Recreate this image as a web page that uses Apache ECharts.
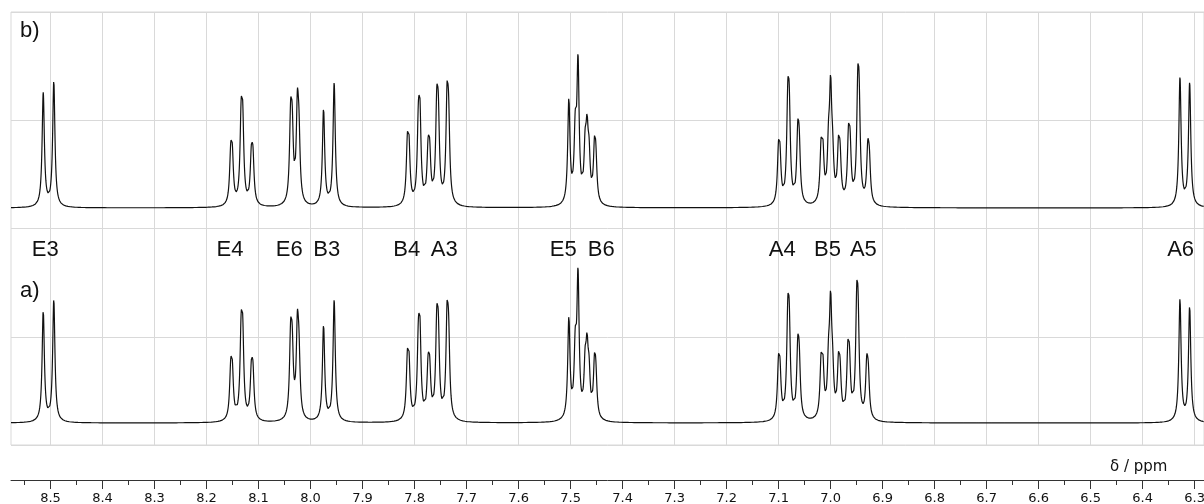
<!DOCTYPE html>
<html><head><meta charset="utf-8">
<script src="https://cdn.jsdelivr.net/npm/echarts@6/dist/echarts.min.js"></script>
<style>html,body{margin:0;padding:0;background:#fff}#c{width:1204px;height:504px}</style>
</head><body><div id="c"></div>
<script>
// x range (ppm) shown
const ppmMin = 6.282, ppmMax = 8.576;
// tick labels
const majorTicks = [8.5,8.4,8.3,8.2,8.1,8.0,7.9,7.8,7.7,7.6,7.5,7.4,7.3,7.2,7.1,7.0,6.9,6.8,6.7,6.6,6.5,6.4,6.3];
const minorTicks = [8.55,8.45,8.35,8.25,8.15,8.05,7.95,7.85,7.75,7.65,7.55,7.45,7.35,7.25,7.15,7.05,6.95,6.85,6.75,6.65,6.55,6.45,6.35];
// peak assignment labels
const labelNames = ['E3','E4','E6','B3','B4','A3','E5','B6','A4','B5','A5','A6'];
const labelPpm = [8.510,8.155,8.041,7.969,7.815,7.743,7.514,7.441,7.093,7.006,6.937,6.327];
// line half width at half height (ppm)
const halfWidth = 0.0026;
// spectrum b) lines: [ppm, intensity]
const peaksB = [
 [8.5140,1.05],[8.4937,1.16],
 [8.1535,0.41],[8.1505,0.39],[8.1335,0.68],[8.1305,0.67],[8.1138,0.39],[8.1108,0.38],
 [8.0383,0.70],[8.0353,0.58],[8.0253,0.80],[8.0223,0.53],
 [7.9750,0.90],[7.9546,1.14],
 [7.8138,0.47],[7.8108,0.46],[7.7927,0.63],[7.7897,0.71],[7.7740,0.41],[7.7710,0.39],[7.7573,0.77],[7.7543,0.67],[7.7375,0.85],[7.7345,0.65],
 [7.5033,0.96],[7.4910,0.60],[7.4857,1.25],[7.4720,0.44],[7.4683,0.55],[7.4645,0.37],[7.4540,0.44],[7.4514,0.33],
 [7.1002,0.42],[7.0974,0.36],[7.0823,0.80],[7.0795,0.72],[7.0631,0.56],[7.0603,0.44],[7.0183,0.45],[7.0148,0.41],[7.0040,0.44],[7.0000,0.95],[6.9962,0.34],[6.9848,0.44],[6.9818,0.35],[6.9656,0.52],[6.9626,0.44],[6.9477,0.89],[6.9451,0.73],[6.9285,0.44],[6.9255,0.34],
 [6.3282,1.19],[6.3096,1.14]
];
// spectrum a) lines: [ppm, intensity]
const peaksA = [
 [8.5140,1.03],[8.4937,1.13],
 [8.1535,0.40],[8.1505,0.39],[8.1335,0.69],[8.1305,0.68],[8.1138,0.39],[8.1108,0.38],
 [8.0383,0.67],[8.0353,0.55],[8.0253,0.76],[8.0223,0.50],
 [7.9750,0.89],[7.9546,1.12],
 [7.8138,0.46],[7.8108,0.45],[7.7927,0.62],[7.7897,0.69],[7.7740,0.40],[7.7710,0.38],[7.7573,0.74],[7.7543,0.65],[7.7375,0.82],[7.7345,0.63],
 [7.5033,0.93],[7.4910,0.58],[7.4857,1.27],[7.4720,0.42],[7.4683,0.53],[7.4645,0.35],[7.4540,0.43],[7.4514,0.32],
 [7.1002,0.43],[7.0974,0.36],[7.0823,0.79],[7.0795,0.71],[7.0631,0.56],[7.0603,0.44],[7.0183,0.45],[7.0148,0.41],[7.0040,0.42],[7.0000,0.95],[6.9962,0.34],[6.9848,0.43],[6.9818,0.34],[6.9668,0.51],[6.9638,0.43],[6.9497,0.88],[6.9471,0.72],[6.9305,0.44],[6.9275,0.34],
 [6.3282,1.13],[6.3096,1.07]
];
const baselineB = 2.19, baselineA = 0.203;

function spectrum(peaks, base) {
  const step = 0.0002;
  const n = Math.round((ppmMax - ppmMin) / step);
  const pts = [];
  for (let i = 0; i <= n; i++) {
    const x = ppmMax - i * step;
    let y = base;
    for (const p of peaks) { const d = (x - p[0]) / halfWidth; y += p[1] / (1 + d * d); }
    pts.push([x, y]);
  }
  return pts;
}

const chart = echarts.init(document.getElementById('c'), null, {renderer: 'canvas'});
const gridColor = '#d9d9d9';
const textFont = 'Liberation Sans, Arial, sans-serif';
chart.setOption({
  animation: false,
  backgroundColor: '#fff',
  title: [
    {text: 'b)', left: 20, top: 20, padding: 0, textStyle: {fontSize: 22, fontWeight: 'normal', fontFamily: textFont, color: '#111'}},
    {text: 'a)', left: 20, top: 280, padding: 0, textStyle: {fontSize: 22, fontWeight: 'normal', fontFamily: textFont, color: '#111'}},
    {text: 'δ / ppm', left: 1110, top: 460, padding: 0, textStyle: {fontSize: 15, fontWeight: 'normal', fontFamily: 'DejaVu Sans', color: '#111'}}
  ],
  grid: {left: 11, right: 0, top: 12, bottom: 59, show: true, borderColor: gridColor, borderWidth: 1,
         containLabel: false, outerBoundsMode: 'none'},
  xAxis: [
    {type: 'value', inverse: true, min: ppmMin, max: ppmMax, position: 'bottom', offset: 35,
     axisLine: {show: true, onZero: false, lineStyle: {color: '#333', width: 1}},
     axisTick: {show: true, length: 9, customValues: majorTicks, lineStyle: {color: '#333'}},
     axisLabel: {show: true, customValues: majorTicks, margin: 12, formatter: v => v.toFixed(1),
                 fontSize: 13, fontFamily: 'DejaVu Sans', color: '#111'},
     splitLine: {show: true, lineStyle: {color: gridColor, width: 1}}},
    {type: 'value', inverse: true, min: ppmMin, max: ppmMax, position: 'bottom', offset: 35,
     axisLine: {show: false, onZero: false},
     axisTick: {show: true, length: 5, customValues: minorTicks, lineStyle: {color: '#333'}},
     axisLabel: {show: false}, splitLine: {show: false}}
  ],
  yAxis: {type: 'value', min: 0, max: 4, interval: 1, axisLine: {show: false}, axisTick: {show: false},
          axisLabel: {show: false}, splitLine: {show: true, lineStyle: {color: gridColor, width: 1}}},
  series: [
    {type: 'line', name: 'b', data: spectrum(peaksB, baselineB), showSymbol: false, symbol: 'none', silent: true,
     lineStyle: {color: '#111', width: 1.2}},
    {type: 'line', name: 'a', data: spectrum(peaksA, baselineA), showSymbol: false, symbol: 'none', silent: true,
     lineStyle: {color: '#111', width: 1.2}},
    {type: 'scatter', name: 'labels', symbolSize: 0, silent: true, itemStyle: {opacity: 1},
     data: labelPpm.map((p, i) => ({value: [p, 1.8], name: labelNames[i]})),
     label: {show: true, position: 'inside', formatter: '{b}', fontSize: 22, fontFamily: textFont, color: '#111',
             opacity: 1, textBorderWidth: 0, textBorderColor: 'transparent'}}
  ]
});
</script></body></html>
